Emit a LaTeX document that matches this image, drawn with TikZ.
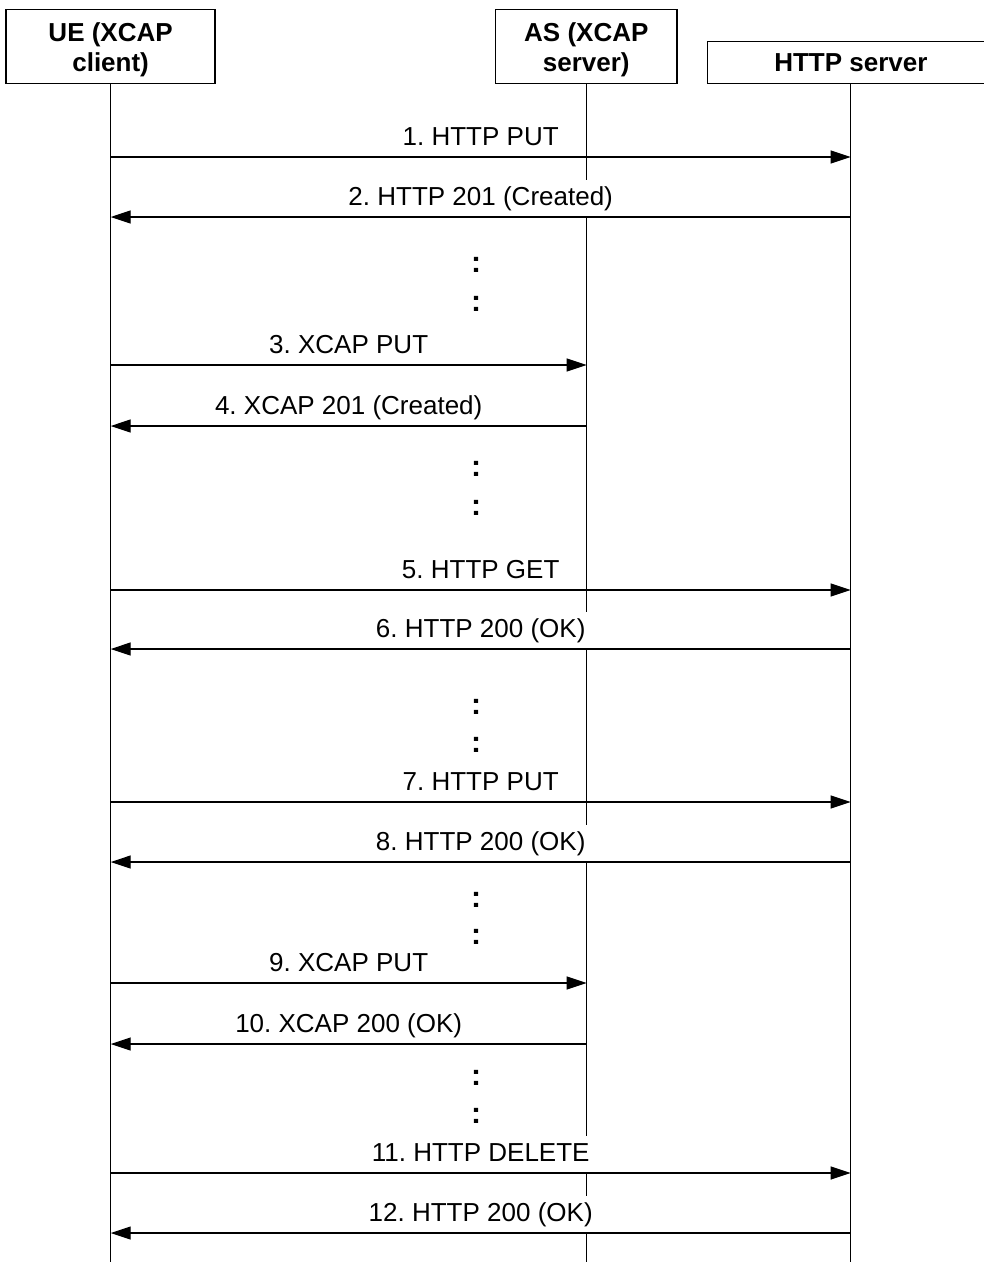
\documentclass[tikz,border=0pt]{standalone}
\usepackage{fontspec}
\setmainfont{Liberation Sans}
\frenchspacing
\usetikzlibrary{arrows.meta}
\tikzset{
  hdr/.style={draw, line width=1.3pt, inner sep=0pt},
  hdrtext/.style={font=\bfseries\fontsize{26}{30}\selectfont, align=center, inner sep=0pt},
  lifeline/.style={line width=1.2pt},
  msg/.style={line width=1.2pt, -{Triangle[length=20pt,width=13pt]}},
  lbl/.style={font=\fontsize{26}{30}\selectfont, fill=white, inner xsep=4pt, inner ysep=4pt, text height=22pt, text depth=6pt},
  dots/.style={font=\bfseries\fontsize{30}{30}\selectfont, inner sep=0pt, anchor=base}
}
\begin{document}
\begin{tikzpicture}[x=1pt,y=-1pt]
\useasboundingbox (0,0) rectangle (983,1263);
\fill[white] (0,0) rectangle (983,1263);
% header boxes
\node[hdr, minimum width=209pt, minimum height=74pt] (ue) at (110.6,46.3) {};
\node[hdrtext] (uet) at ([yshift=-3.7pt]ue.center) {UE (XCAP\\client)};
\node[hdr, minimum width=181.3pt, minimum height=74pt] (as) at (586.3,46.3) {};
\node[hdrtext] (ast) at ([yshift=-3.7pt]as.center) {AS (XCAP\\server)};
\node[hdr, minimum width=286.3pt, minimum height=42pt] (http) at (850.85,62.3) {};
\node[hdrtext] (httpt) at (http.center) {HTTP server};
% lifelines
\coordinate (ueend) at (110.7,1262);
\coordinate (asend) at (586.7,1262);
\coordinate (httpend) at (850.7,1262);
\draw[lifeline] (ue.south -| ueend) -- (ueend);
\draw[lifeline] (as.south -| asend) -- (asend);
\draw[lifeline] (http.south -| httpend) -- (httpend);
% messages
\draw[msg] (ueend |- 0,157) -- node[lbl, midway, above=0.7pt] (l1) {1. HTTP PUT} (httpend |- 0,157);
\draw[msg] (httpend |- 0,217) -- node[lbl, midway, above=0.7pt] (l2) {2. HTTP 201 (Created)} (ueend |- 0,217);
\node[dots] (d1) at (476,272) {:};
\node[dots] (d2) at (476,311) {:};
\draw[msg] (ueend |- 0,365) -- node[lbl, midway, above=0.7pt] (l3) {3. XCAP PUT} (asend |- 0,365);
\draw[msg] (asend |- 0,426) -- node[lbl, midway, above=0.7pt] (l4) {4. XCAP 201 (Created)} (ueend |- 0,426);
\node[dots] (d3) at (476,476) {:};
\node[dots] (d4) at (476,515) {:};
\draw[msg] (ueend |- 0,590) -- node[lbl, midway, above=0.7pt] (l5) {5. HTTP GET} (httpend |- 0,590);
\draw[msg] (httpend |- 0,649) -- node[lbl, midway, above=0.7pt] (l6) {6. HTTP 200 (OK)} (ueend |- 0,649);
\node[dots] (d5) at (476,714) {:};
\node[dots] (d6) at (476,752) {:};
\draw[msg] (ueend |- 0,802) -- node[lbl, midway, above=0.7pt] (l7) {7. HTTP PUT} (httpend |- 0,802);
\draw[msg] (httpend |- 0,862) -- node[lbl, midway, above=0.7pt] (l8) {8. HTTP 200 (OK)} (ueend |- 0,862);
\node[dots] (d7) at (476,907) {:};
\node[dots] (d8) at (476,944) {:};
\draw[msg] (ueend |- 0,983) -- node[lbl, midway, above=0.7pt] (l9) {9. XCAP PUT} (asend |- 0,983);
\draw[msg] (asend |- 0,1044) -- node[lbl, midway, above=0.7pt] (l10) {10. XCAP 200 (OK)} (ueend |- 0,1044);
\node[dots] (d9) at (476,1085) {:};
\node[dots] (d10) at (476,1123) {:};
\draw[msg] (ueend |- 0,1173) -- node[lbl, midway, above=0.7pt] (l11) {11. HTTP DELETE} (httpend |- 0,1173);
\draw[msg] (httpend |- 0,1233) -- node[lbl, midway, above=0.7pt] (l12) {12. HTTP 200 (OK)} (ueend |- 0,1233);
\end{tikzpicture}
\end{document}
